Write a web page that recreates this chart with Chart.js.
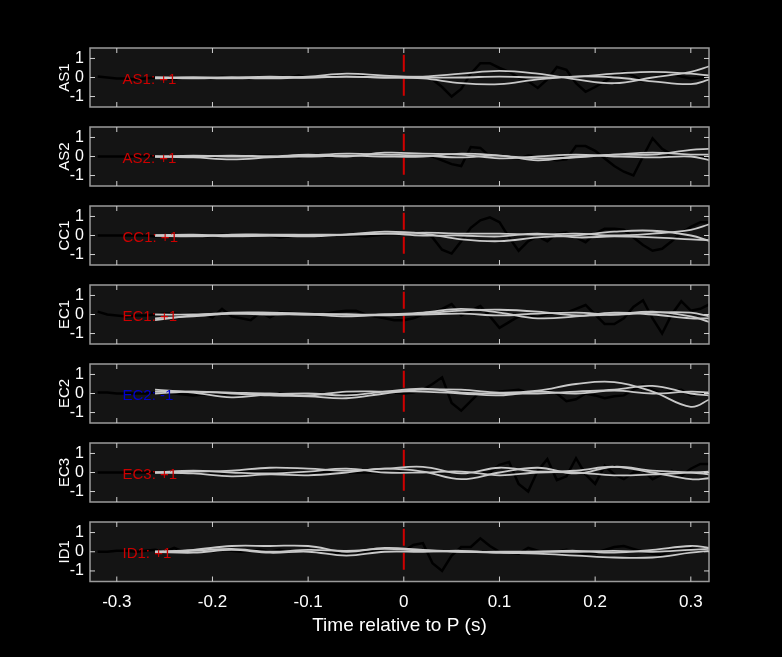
<!DOCTYPE html>
<html><head><meta charset="utf-8">
<script src="https://cdn.jsdelivr.net/npm/chart.js@4/dist/chart.umd.min.js"></script>
<style>body{margin:0;background:#000;width:782px;height:657px;position:relative;overflow:hidden}canvas{position:absolute;left:0}</style>
</head><body>
<script>
const stations = ["AS1","AS2","CC1","EC1","EC2","EC3","ID1"];
const polarityLabels = ["AS1: +1","AS2: +1","CC1: +1","EC1: +1","EC2: -1","EC3: +1","ID1: +1"];
const labelColors = ["#cc0000","#cc0000","#cc0000","#cc0000","#0000cc","#cc0000","#cc0000"];
const xTicks = [-0.3,-0.2,-0.1,0,0.1,0.2,0.3];
const yTicks = [-1,0,1];
const tBlack = [-0.32,-0.31,-0.30,-0.29,-0.28,-0.27,-0.26,-0.25,-0.24,-0.23,-0.22,-0.21,-0.20,-0.19,-0.18,-0.17,-0.16,-0.15,-0.14,-0.13,-0.12,-0.11,-0.10,-0.09,-0.08,-0.07,-0.06,-0.05,-0.04,-0.03,-0.02,-0.01,0,0.01,0.02,0.03,0.04,0.05,0.06,0.07,0.08,0.09,0.10,0.11,0.12,0.13,0.14,0.15,0.16,0.17,0.18,0.19,0.20,0.21,0.22,0.23,0.24,0.25,0.26,0.27,0.28,0.29,0.30,0.31,0.32];
const tGray = [-0.26,-0.22,-0.18,-0.14,-0.10,-0.06,-0.02,0.02,0.06,0.10,0.14,0.18,0.22,0.26,0.30,0.32];
const blackAS1 = [0.05,0.0,-0.05,-0.05,-0.1,-0.05,0.0,-0.05,-0.08,-0.05,0.0,-0.02,0.0,0.05,0.0,-0.02,0.0,0.03,0.0,0.05,0.0,0.1,0.0,0.05,0.05,0.05,0.08,0.05,0.1,0.05,0.05,0.0,
 0.0,0.05,0.05,-0.1,-0.5,-1.0,-0.6,0.2,0.75,0.75,0.5,0.3,0.0,-0.2,-0.55,-0.1,0.55,0.4,-0.3,-0.75,-0.5,-0.2,0.1,0.3,0.1,-0.2,0.0,0.1,0.2,0.05,-0.05,0.0,0.05];
const blackAS2 = [0.0,0.0,0.0,0.0,0.0,0.02,0.0,0.0,0.02,0.0,0.0,0.0,0.0,0.02,0.0,0.05,0.0,0.05,0.05,0.0,0.05,-0.05,0.05,0.05,0.0,0.05,0.05,0.08,0.05,0.1,0.08,0.05,
 0.1,0.05,0.1,0.0,-0.2,-0.4,-0.5,0.5,0.45,0.0,0.05,-0.05,-0.1,0.05,0.0,-0.1,-0.2,-0.15,0.55,0.55,0.3,-0.1,-0.5,-0.8,-1.0,0.0,0.95,0.4,0.1,0.15,0.05,0.0,-0.05];
const blackCC1 = [0.0,0.0,0.0,0.0,0.0,0.0,-0.05,0.0,0.05,0.0,-0.05,-0.08,0.0,0.05,-0.05,-0.05,0.0,0.05,0.0,-0.1,-0.05,0.05,0.05,-0.05,0.0,0.05,0.0,0.0,-0.05,0.0,0.05,0.08,
 0.05,0.1,0.2,-0.1,-0.75,-0.95,-0.3,0.4,0.8,0.95,0.7,-0.1,-0.8,-0.3,-0.05,-0.3,0.1,0.15,-0.1,-0.35,0.1,0.35,0.35,0.3,-0.1,-0.5,-0.8,-0.7,-0.3,0.15,0.45,0.7,0.7];
const blackEC1 = [0.15,0.0,-0.05,-0.1,-0.05,-0.05,0.0,0.05,0.05,0.0,0.05,0.0,-0.15,0.3,-0.1,-0.2,-0.3,0.1,-0.15,0.1,0.1,0.05,0.0,-0.05,0.05,0.15,0.2,0.2,0.0,-0.1,-0.2,-0.3,
 -0.3,-0.2,0.0,0.1,0.3,0.55,-0.05,0.2,0.45,-0.1,-0.7,-0.4,-0.1,0.0,-0.15,0.05,0.1,0.1,0.3,0.5,0.0,-0.5,-0.5,-0.2,0.4,0.75,-0.2,-1.0,0.0,0.7,0.2,0.3,0.55];
const blackEC2 = [0.05,0.05,0.0,0.0,0.0,0.0,0.05,0.05,0.0,-0.05,-0.1,-0.05,0.0,0.0,-0.05,0.0,0.0,0.0,0.0,0.0,0.0,0.0,0.0,0.0,-0.05,-0.05,0.0,-0.05,0.0,0.0,0.0,0.05,
 0.0,0.05,0.2,0.5,0.85,-0.5,-0.9,-0.4,0.1,0.05,0.1,0.15,0.2,0.05,0.1,0.2,0.0,-0.4,-0.3,0.0,-0.1,-0.25,-0.15,-0.1,0.2,0.45,0.2,0.0,0.15,0.2,-0.1,0.0,0.0];
const blackEC3 = [0.0,0.0,0.0,0.0,0.0,0.0,0.0,0.0,0.0,0.0,0.0,0.0,0.0,0.0,0.0,0.0,0.0,0.0,0.0,0.0,0.0,0.0,0.0,0.0,0.0,0.0,0.0,0.0,0.0,0.0,0.02,0.0,
 0.0,0.02,-0.02,0.0,0.0,0.02,0.0,0.0,-0.02,0.0,0.4,0.55,-0.6,-1.0,0.1,0.7,-0.4,-0.2,0.75,-0.1,-0.6,0.35,-0.1,-0.35,0.0,0.1,-0.35,-0.1,0.1,-0.2,0.2,0.45,0.45];
const blackID1 = [0.0,0.0,0.05,0.05,0.0,0.05,0.1,0.0,0.2,0.0,0.05,0.05,0.0,0.1,0.05,0.0,0.05,0.1,0.0,0.1,0.0,0.05,0.0,0.0,0.05,-0.05,-0.05,0.0,0.05,0.0,0.05,0.0,
 0.05,0.35,0.45,-0.6,-1.0,-0.2,0.25,0.25,0.7,0.3,0.0,-0.05,-0.1,0.2,0.05,-0.1,0.0,0.1,0.0,-0.1,-0.05,0.1,0.25,0.3,0.15,0.0,-0.1,-0.15,0.1,0.1,0.15,0.1,0.0];
const grayAS1 = [[0.0,-0.05,0.0,0.05,0.0,0.05,0.0,-0.05,-0.3,-0.35,-0.1,0.05,0.0,-0.2,-0.35,-0.1],
 [0.0,0.0,-0.05,0.0,0.05,0.2,0.1,0.05,0.2,0.35,0.2,-0.1,-0.3,0.0,0.3,0.6],
 [-0.05,0.0,0.0,-0.05,0.0,0.05,0.0,0.0,0.0,0.05,0.0,0.05,0.2,0.3,0.2,0.1]];
const grayAS2 = [[0.0,-0.05,-0.15,-0.05,0.05,0.15,0.1,0.05,-0.05,0.05,-0.2,0.0,0.1,0.1,0.35,0.4],
 [0.0,0.05,0.0,0.0,0.1,0.0,0.2,0.15,0.1,-0.1,0.0,0.1,0.0,-0.05,0.0,-0.2],
 [0.0,0.0,0.05,0.0,0.0,0.05,0.0,0.0,0.15,0.05,-0.1,-0.05,0.1,0.2,0.1,0.1]];
const grayCC1 = [[0.0,0.05,-0.05,0.0,-0.05,0.05,0.2,0.1,-0.2,-0.3,-0.1,0.0,0.2,0.25,0.0,-0.3],
 [0.0,-0.05,0.05,0.05,0.05,0.05,0.1,0.15,0.1,0.1,0.05,0.1,0.0,0.1,0.3,0.6],
 [0.0,0.0,0.0,0.0,0.0,0.05,0.1,0.0,0.0,-0.05,0.1,-0.1,-0.05,-0.1,-0.2,-0.25]];
const grayEC1 = [[-0.2,-0.1,0.05,0.05,0.0,0.0,-0.05,0.05,0.2,0.25,0.15,-0.05,0.0,0.15,-0.1,-0.4],
 [-0.3,-0.05,0.1,0.1,0.05,0.0,0.0,0.0,0.05,-0.05,0.05,0.1,0.0,0.1,0.1,-0.1],
 [0.0,0.0,0.05,0.0,0.0,-0.1,0.0,0.1,0.3,0.1,-0.2,-0.1,0.1,0.0,-0.2,-0.2]];
const grayEC2 = [[0.1,0.1,0.0,-0.1,-0.15,-0.25,0.0,0.2,0.2,0.05,0.15,0.5,0.6,0.1,-0.7,-0.3],
 [0.2,0.05,-0.2,-0.05,0.0,-0.1,0.1,0.25,0.05,0.0,0.0,0.1,0.2,0.4,0.0,-0.1],
 [0.0,0.1,0.05,0.0,-0.1,0.1,0.1,0.1,0.0,-0.1,0.1,0.0,0.15,0.0,0.1,0.05]];
const grayEC3 = [[0.0,0.05,0.1,0.25,0.2,0.1,0.2,0.3,-0.05,0.25,0.05,0.1,0.3,0.0,-0.35,-0.3],
 [0.0,-0.05,-0.2,-0.1,-0.15,0.0,0.2,0.05,-0.35,0.0,0.25,-0.05,0.3,0.1,0.0,-0.1],
 [0.0,0.1,0.0,-0.05,0.05,0.2,0.0,0.0,0.05,-0.15,0.0,0.0,-0.15,-0.1,0.0,0.05]];
const grayID1 = [[0.0,0.1,0.3,0.3,0.3,0.0,0.2,0.1,0.0,-0.05,0.0,0.05,-0.05,0.1,0.3,0.2],
 [0.0,-0.05,0.1,-0.05,0.0,-0.2,0.0,0.0,0.05,-0.05,-0.1,-0.2,-0.3,-0.3,-0.05,0.05],
 [0.0,0.05,0.15,0.0,0.1,0.05,0.15,0.05,0.0,0.0,0.0,0.0,0.05,0.0,0.1,0.15]];
const blackAll = [blackAS1,blackAS2,blackCC1,blackEC1,blackEC2,blackEC3,blackID1];
const grayAll = [grayAS1,grayAS2,grayCC1,grayEC1,grayEC2,grayEC3,grayID1];

const FONT = "'Liberation Sans', Arial, sans-serif";
const decor = {
  id:'decor',
  beforeDraw(c){const a=c.chartArea,x=c.ctx;x.save();x.fillStyle='#141414';x.fillRect(a.left,a.top,a.right-a.left,a.bottom-a.top);x.restore();},
  afterDraw(c){
    const a=c.chartArea,x=c.ctx,sx=c.scales.x,sy=c.scales.y,i=c.options.plugins.decor.idx;
    x.save();
    x.strokeStyle='#9a9a9a';x.lineWidth=1.5;
    x.strokeRect(a.left,a.top,a.right-a.left,a.bottom-a.top);
    x.strokeStyle='#d0d0d0';x.lineWidth=1;x.beginPath();
    xTicks.forEach(v=>{const p=sx.getPixelForValue(v);x.moveTo(p,a.top);x.lineTo(p,a.top+5);x.moveTo(p,a.bottom);x.lineTo(p,a.bottom-5);});
    yTicks.forEach(v=>{const p=sy.getPixelForValue(v);x.moveTo(a.left,p);x.lineTo(a.left+5,p);x.moveTo(a.right,p);x.lineTo(a.right-5,p);});
    x.stroke();
    x.fillStyle=labelColors[i];x.font='15px '+FONT;x.textBaseline='middle';x.textAlign='left';
    x.fillText(polarityLabels[i],sx.getPixelForValue(-0.294),sy.getPixelForValue(-0.1));
    x.fillStyle='#ffffff';x.font='15px '+FONT;x.textAlign='center';
    x.translate(65,sy.getPixelForValue(0));x.rotate(-Math.PI/2);x.fillText(stations[i],0,0);
    x.restore();
  }
};
const tops=[48,127,206,285,364,443,522];
stations.forEach((s,i)=>{
  const last=i===6;
  const h=last?121:63;
  const cv=document.createElement('canvas');
  cv.width=782;cv.height=h;
  cv.style.top=(tops[i]-2)+'px';cv.style.width='782px';cv.style.height=h+'px';
  document.body.appendChild(cv);
  const ds=[];
  grayAll[i].forEach(g=>ds.push({data:tGray.map((t,k)=>({x:t,y:g[k]})),borderColor:'#c8c8c8',borderWidth:1.8,tension:0.4,pointRadius:0}));
  ds.push({data:[{x:0,y:1.2},{x:0,y:-1.2}],borderColor:'#d00000',borderWidth:2,borderDash:[17,7],pointRadius:0});
  ds.push({data:tBlack.map((t,k)=>({x:t,y:blackAll[i][k]})),borderColor:'#000000',borderWidth:2.5,tension:0,pointRadius:0});
  new Chart(cv,{type:'line',data:{datasets:ds},plugins:[decor],
    options:{responsive:false,animation:false,devicePixelRatio:1,
      layout:{padding:{left:0,right:73,top:2,bottom:last?0:2}},
      plugins:{legend:{display:false},tooltip:{enabled:false},decor:{idx:i}},
      scales:{
        x:{type:'linear',display:last,min:-0.328,max:0.319,border:{display:false},grid:{display:false,drawTicks:false},
          afterBuildTicks(sc){sc.ticks=xTicks.map(v=>({value:v}));},
          afterFit(sc){sc.paddingLeft=0;sc.paddingRight=0;},
          ticks:{color:'#fff',font:{size:17,family:FONT},padding:11,maxRotation:0,autoSkip:false,callback:v=>String(Math.round(v*10)/10)},
          title:{display:true,text:'Time relative to P (s)',color:'#fff',font:{size:19,family:FONT},padding:{top:2,bottom:4}}},
        y:{min:-1.55,max:1.55,border:{display:false},grid:{display:false,drawTicks:false},
          afterFit(sc){sc.width=90;sc.paddingTop=0;sc.paddingBottom=0;},
          afterBuildTicks(sc){sc.ticks=yTicks.map(v=>({value:v}));},
          ticks:{color:'#fff',font:{size:16,family:FONT},padding:6,autoSkip:false}}
      }}});
});
</script>
</body></html>
